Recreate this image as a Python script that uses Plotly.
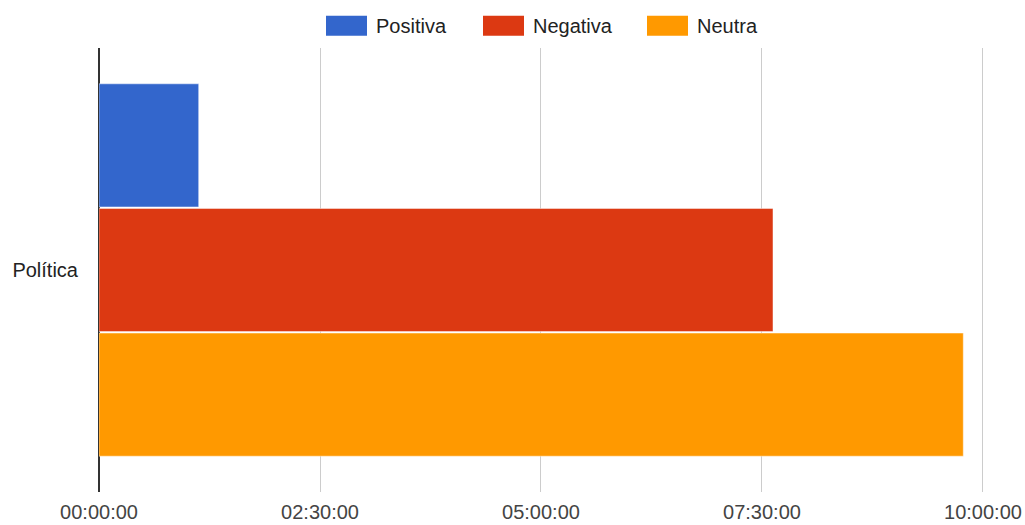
import plotly.graph_objects as go

# Data
category = ["Política"]
series_names = ["Positiva", "Negativa", "Neutra"]
series_durations = ["01:07:40", "07:37:28", "09:46:38"]
series_colors = ["#3366cc", "#dc3912", "#ff9900"]
tick_labels = ["00:00:00", "02:30:00", "05:00:00", "07:30:00", "10:00:00"]


def to_seconds(hms):
    h, m, s = (int(p) for p in hms.split(":"))
    return h * 3600 + m * 60 + s


tick_values = [to_seconds(t) for t in tick_labels]

W, H = 1025, 525
# a little headroom past the last tick keeps its gridline inside the plot
RANGE_PAD = 82
M_L, M_R, M_T, M_B = 99, 40, 48, 33
FONT = "Liberation Sans, Arial, sans-serif"

fig = go.Figure()
for name, dur, color in zip(series_names, series_durations, series_colors):
    fig.add_trace(go.Bar(
        y=category,
        x=[to_seconds(dur)],
        name=name,
        orientation="h",
        marker=dict(color=color, line=dict(color="rgba(255,255,255,0.45)", width=1)),
        showlegend=False,
        hovertemplate=name + ": " + dur + "<extra></extra>",
    ))

# Legend drawn as wide swatches with labels above the plot
plot_w = W - M_L - M_R
plot_h = H - M_T - M_B


def px_to_paper_x(px):
    return (px - M_L) / plot_w


def px_to_paper_y(py):
    return (H - M_B - py) / plot_h


legend_swatch_left = [326, 483, 647]
swatch_w, swatch_h, legend_cy = 41, 20, 25.7
shapes = []
annotations = []
for name, color, left in zip(series_names, series_colors, legend_swatch_left):
    shapes.append(dict(
        type="rect", xref="paper", yref="paper",
        x0=px_to_paper_x(left), x1=px_to_paper_x(left + swatch_w),
        y0=px_to_paper_y(legend_cy + swatch_h / 2), y1=px_to_paper_y(legend_cy - swatch_h / 2),
        fillcolor=color, line=dict(width=0), layer="above",
    ))
    annotations.append(dict(
        text=name, xref="paper", yref="paper",
        x=px_to_paper_x(left + swatch_w + 7), y=px_to_paper_y(legend_cy),
        xanchor="left", yanchor="middle", showarrow=False,
        font=dict(family=FONT, size=20, color="#222222"),
    ))

fig.update_layout(
    width=W, height=H,
    margin=dict(l=M_L, r=M_R, t=M_T, b=M_B, pad=0, autoexpand=False),
    paper_bgcolor="white", plot_bgcolor="white",
    barmode="group", bargap=0.158, bargroupgap=0.012,
    shapes=shapes, annotations=annotations,
    font=dict(family=FONT, size=20, color="#444444"),
    xaxis=dict(
        range=[0, tick_values[-1] + RANGE_PAD],
        tickvals=tick_values, ticktext=tick_labels,
        showgrid=True, gridcolor="#cccccc", gridwidth=1,
        zeroline=True, zerolinecolor="#333333", zerolinewidth=1.5,
        showline=False, ticks="", ticklabelstandoff=6,
        tickfont=dict(family=FONT, size=20, color="#444444"),
        automargin=False, fixedrange=True,
    ),
    yaxis=dict(
        range=[0.5, -0.5],
        showgrid=False, zeroline=False, showline=False, ticks="",
        ticklabelstandoff=20,
        tickfont=dict(family=FONT, size=20, color="#222222"),
        automargin=False, fixedrange=True,
    ),
)

fig.write_html("out.html", config={"displayModeBar": False})
